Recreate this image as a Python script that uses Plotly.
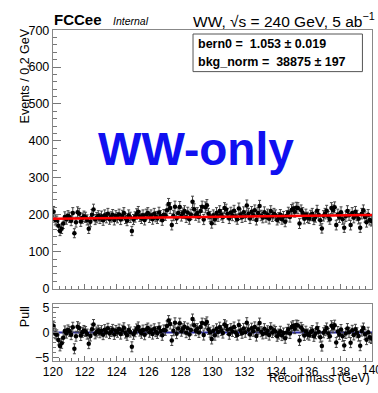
import numpy as np
import plotly.graph_objects as go

# ---------------- data ----------------
x_min, x_max, bin_w = 120.0, 140.0, 0.1
counts = [
    208, 186, 183, 170, 156, 162, 176, 194, 188, 197,   # 120-121
    193, 184, 205, 150, 180, 207, 203, 182, 191, 196,   # 121-122
    193, 186, 162, 181, 200, 214, 187, 192, 197, 190,   # 122-123
    196, 185, 199, 192, 203, 188, 194, 200, 186, 197,   # 123-124
    192, 201, 187, 198, 205, 190, 184, 199, 193, 156,   # 124-125
    187, 194, 202, 208, 196, 190, 199, 186, 201, 205,   # 125-126
    193, 199, 188, 203, 195, 190, 206, 197, 185, 200,   # 126-127
    199, 212, 229, 218, 172, 198, 222, 190, 205, 221,   # 127-128
    197, 204, 210, 193, 206, 188, 201, 235, 215, 199,   # 128-129
    205, 194, 210, 222, 187, 220, 226, 203, 195, 177,   # 129-130
    199, 187, 205, 196, 210, 200, 193, 218, 214, 203,   # 130-131
    190, 206, 198, 211, 195, 188, 217, 201, 193, 207,   # 131-132
    196, 225, 203, 190, 208, 199, 212, 186, 205, 224,   # 132-133
    198, 192, 207, 194, 201, 189, 210, 196, 203, 199,   # 133-134
    186, 192, 200, 188, 195, 181, 197, 206, 194, 213,   # 134-135
    217, 208, 219, 218, 176, 212, 205, 189, 201, 193,   # 135-136
    190, 198, 203, 187, 194, 211, 200, 185, 163, 197,   # 136-137
    203, 211, 195, 188, 218, 212, 220, 172, 201, 193,   # 137-138
    207, 188, 165, 196, 210, 199, 172, 205, 192, 208,   # 138-139
    198, 189, 165, 203, 212, 194, 180, 200, 186, 183,   # 139-140
]
bern0 = 1.053
bkg_norm = 38875
fit_label_lines = ["<b>bern0 =  1.053 ± 0.019</b>", "<b>bkg_norm =  38875 ± 197</b>"]
x_tick_vals = [120, 122, 124, 126, 128, 130, 132, 134, 136, 138]
x_last_tick = 140

# ---------------- derived quantities ----------------
counts = np.array(counts, dtype=float)
centers = x_min + bin_w * (np.arange(len(counts)) + 0.5)
errs = np.sqrt(counts)


def model(x):
    t = (np.asarray(x) - x_min) / (x_max - x_min)
    shape = (1 - t) + bern0 * t
    return bkg_norm * bin_w / (x_max - x_min) * shape / ((1 + bern0) / 2)


pulls = (counts - model(centers)) / errs
fit_x = np.array([x_min, x_max])

# ---------------- figure ----------------
W, H = 378, 393
FONT = "Liberation Sans, Arial, sans-serif"


def px(x):
    return x / W


def py(y):
    return 1 - y / H


fig = go.Figure()

fig.add_trace(go.Scatter(
    x=centers, y=counts, mode="markers",
    marker=dict(color="black", size=4.5),
    error_y=dict(type="data", array=errs, visible=True, color="#444", thickness=1, width=1.5),
    xaxis="x", yaxis="y", showlegend=False))
fig.add_trace(go.Scatter(
    x=fit_x, y=model(fit_x), mode="lines",
    line=dict(color="#ff0000", width=2.5),
    xaxis="x", yaxis="y", showlegend=False))

fig.add_trace(go.Scatter(
    x=fit_x, y=[0, 0], mode="lines",
    line=dict(color="#2c2ca8", width=2),
    xaxis="x2", yaxis="y2", showlegend=False))
fig.add_trace(go.Scatter(
    x=centers, y=pulls, mode="markers",
    marker=dict(color="black", size=4.5),
    error_y=dict(type="data", array=np.ones_like(pulls), visible=True, color="#444", thickness=1, width=1.5),
    xaxis="x2", yaxis="y2", showlegend=False))

axis_common = dict(
    showline=True, linecolor="#888", linewidth=1, mirror=True,
    showgrid=False, zeroline=False, ticks="inside", tickcolor="#777",
)
tf = dict(family=FONT, size=12.5, color="black")
tf_x = dict(family=FONT, size=12, color="black")

xdom = [px(44), px(372)]
fig.update_layout(
    width=W, height=H, autosize=False,
    margin=dict(l=0, r=0, t=0, b=0),
    paper_bgcolor="white", plot_bgcolor="white",
    font=dict(family=FONT, color="black"),
    xaxis=dict(domain=xdom, anchor="y", range=[x_min, x_max], dtick=2, ticklen=5,
               showticklabels=False, tickfont=tf,
               minor=dict(ticks="inside", dtick=0.4, ticklen=3, tickcolor="#777"),
               **axis_common),
    yaxis=dict(domain=[py(292), py(24)], anchor="x", range=[0, 700], dtick=100, ticklen=8,
               tickfont=tf,
               minor=dict(ticks="inside", dtick=20, ticklen=4, tickcolor="#777"),
               **axis_common),
    xaxis2=dict(domain=xdom, anchor="y2", range=[x_min, x_max], tickvals=x_tick_vals, ticklen=5,
                tickfont=tf_x,
                minor=dict(ticks="inside", dtick=0.4, ticklen=3, tickcolor="#777"),
                **axis_common),
    yaxis2=dict(domain=[py(367), py(308)], anchor="x2", range=[-5.7, 5.7],
                tickvals=[-5, 0, 5], ticklen=6, tickfont=tf,
                minor=dict(ticks="inside", dtick=1, ticklen=3, tickcolor="#777"),
                **axis_common),
)

ann = [
    dict(text="<b>FCCee</b>", x=px(43), y=py(13), xanchor="left", yanchor="middle",
         font=dict(size=15, family=FONT)),
    dict(text="<i>Internal</i>", x=px(104), y=py(14), xanchor="left", yanchor="middle",
         font=dict(size=10.5, family=FONT)),
    dict(text="WW, √s = 240 GeV, 5 ab<sup>−1</sup>", x=px(377), y=py(13), xanchor="right",
         yanchor="middle", font=dict(size=15.5, family=FONT)),
    dict(text=fit_label_lines[0], x=px(191), y=py(38), xanchor="left", yanchor="middle",
         font=dict(size=12.5, family=FONT)),
    dict(text=fit_label_lines[1], x=px(191), y=py(57), xanchor="left", yanchor="middle",
         font=dict(size=12.5, family=FONT)),
    dict(text="<b>WW-only</b>", x=px(191), y=py(147), xanchor="center", yanchor="middle",
         font=dict(size=46, family=FONT, color="#1010f0")),
    dict(text="Events / 0.2 GeV", x=px(15), y=py(20), xanchor="center", yanchor="top",
         textangle=-90, font=dict(size=12.5, family=FONT)),
    dict(text="Pull", x=px(15), y=py(308), xanchor="center", yanchor="top",
         textangle=-90, font=dict(size=12.5, family=FONT)),
    dict(text=str(x_last_tick), x=x_last_tick, xref="x2", y=py(368), xanchor="center",
         yanchor="top", borderpad=0, font=tf_x),
    dict(text="Recoil mass (GeV)", x=px(371), y=0, xanchor="right", yanchor="bottom",
         borderpad=0, font=dict(size=12, family=FONT)),
]
for a in ann:
    a.setdefault("xref", "paper")
    a.update(yref="paper", showarrow=False)
fig.update_layout(annotations=ann)

fig.add_shape(type="rect", xref="paper", yref="paper",
              x0=px(188), x1=px(362), y0=py(67), y1=py(28),
              line=dict(color="#555", width=1), fillcolor="white", layer="below")

fig.write_html("out.html")
